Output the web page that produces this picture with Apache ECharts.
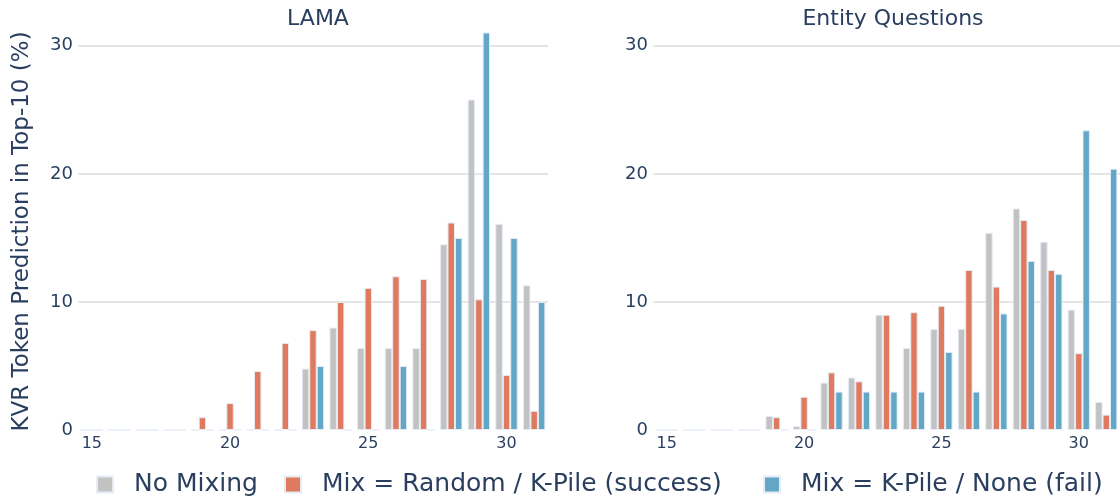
<!DOCTYPE html>
<html>
<head>
<meta charset="utf-8">
<script src="https://cdn.jsdelivr.net/npm/echarts@6/dist/echarts.min.js"></script>
<style>
html,body{margin:0;padding:0;background:#fff;}
#chart{width:1120px;height:498px;}
</style>
</head>
<body>
<div id="chart"></div>
<script>
const layers = ['15','16','17','18','19','20','21','22','23','24','25','26','27','28','29','30','31'];
const seriesNames = ['No Mixing', 'Mix = Random / K-Pile (success)', 'Mix = K-Pile / None (fail)'];
const lamaNoMix   = [0,0,0,0,0,0,0,0,4.8,8.0,6.4,6.4,6.4,14.5,25.8,16.1,11.3];
const lamaSuccess = [0,0,0,0,1.0,2.1,4.6,6.8,7.8,10.0,11.1,12.0,11.8,16.2,10.2,4.3,1.5];
const lamaFail    = [0,0,0,0,0,0,0,0,5.0,0,0,5.0,0,15.0,31.5,15.0,10.0];
const eqNoMix     = [0,0,0,0,1.1,0.3,3.7,4.1,9.0,6.4,7.9,7.9,15.4,17.3,14.7,9.4,2.2];
const eqSuccess   = [0,0,0,0,1.0,2.6,4.5,3.8,9.0,9.2,9.7,12.5,11.2,16.4,12.5,6.0,1.2];
const eqFail      = [0,0,0,0,0,0,3.0,3.0,3.0,3.0,6.1,3.0,9.1,13.2,12.2,23.4,20.4];
const xTickLabels = ['15','20','25','30'];
const yTicks = [0,10,20,30];
const panelTitles = ['LAMA', 'Entity Questions'];
const colors = ['#C2C2C2', '#E07A5F', '#62A7C6'];

const txt = '#2a3f5f';
const font = 'DejaVu Sans';
const gridColor = '#dcdcdc';

function xAxis(gi) {
  return {
    type: 'category', gridIndex: gi, data: layers, boundaryGap: true,
    axisLine: {show: false}, axisTick: {show: false},
    axisLabel: {
      interval: (i, v) => xTickLabels.indexOf(v) >= 0,
      color: txt, fontSize: 16, fontFamily: font, margin: 6
    },
    splitLine: {show: false}
  };
}
function yAxis(gi, withName) {
  const ax = {
    type: 'value', gridIndex: gi, min: 0, max: 31, interval: 10,
    axisLine: {show: false}, axisTick: {show: false},
    axisLabel: {
      color: txt, fontSize: 18, fontFamily: font, margin: 5,
      formatter: v => (yTicks.indexOf(v) >= 0 ? String(v) : '')
    },
    splitLine: {show: true, lineStyle: {color: ['transparent', gridColor, gridColor, gridColor, 'transparent'], width: 1.5}}
  };
  if (withName) {
    ax.name = 'KVR Token Prediction in Top-10 (%)';
    ax.nameLocation = 'middle';
    ax.nameGap = 44;
    ax.nameTextStyle = {color: txt, fontSize: 23, fontFamily: font};
  }
  return ax;
}
function bars(name, data, gi, ci) {
  return {
    name: name, type: 'bar', xAxisIndex: gi, yAxisIndex: gi, data: data,
    barGap: '0%', barCategoryGap: '19%',
    itemStyle: {color: colors[ci], borderColor: '#E5ECF6', borderWidth: 1},
    emphasis: {disabled: true}, clip: true
  };
}
function legendItem(i, left) {
  return {
    data: [seriesNames[i]], left: left, top: 472, padding: 0, orient: 'horizontal',
    icon: 'rect', itemWidth: 16, itemHeight: 16,
    textStyle: {color: txt, fontSize: 25, fontFamily: font, padding: [0, 0, 0, 16]},
    selectedMode: false
  };
}

const chart = echarts.init(document.getElementById('chart'), null, {renderer: 'canvas'});
chart.setOption({
  animation: false,
  backgroundColor: '#ffffff',
  title: [
    {text: panelTitles[0], left: 313, top: 3, textAlign: 'center', textStyle: {color: txt, fontSize: 22, fontWeight: 'normal', fontFamily: font}},
    {text: panelTitles[1], left: 888, top: 3, textAlign: 'center', textStyle: {color: txt, fontSize: 22, fontWeight: 'normal', fontFamily: font}}
  ],
  legend: [legendItem(0, 96), legendItem(1, 284), legendItem(2, 763)],
  grid: [
    {left: 78, right: 1120 - 548, top: 33, bottom: 68, containLabel: false},
    {left: 653, right: -4, top: 33, bottom: 68, containLabel: false}
  ],
  xAxis: [xAxis(0), xAxis(1)],
  yAxis: [yAxis(0, true), yAxis(1, false)],
  series: [
    bars(seriesNames[0], lamaNoMix, 0, 0),
    bars(seriesNames[1], lamaSuccess, 0, 1),
    bars(seriesNames[2], lamaFail, 0, 2),
    bars(seriesNames[0], eqNoMix, 1, 0),
    bars(seriesNames[1], eqSuccess, 1, 1),
    bars(seriesNames[2], eqFail, 1, 2)
  ]
});
</script>
</body>
</html>
